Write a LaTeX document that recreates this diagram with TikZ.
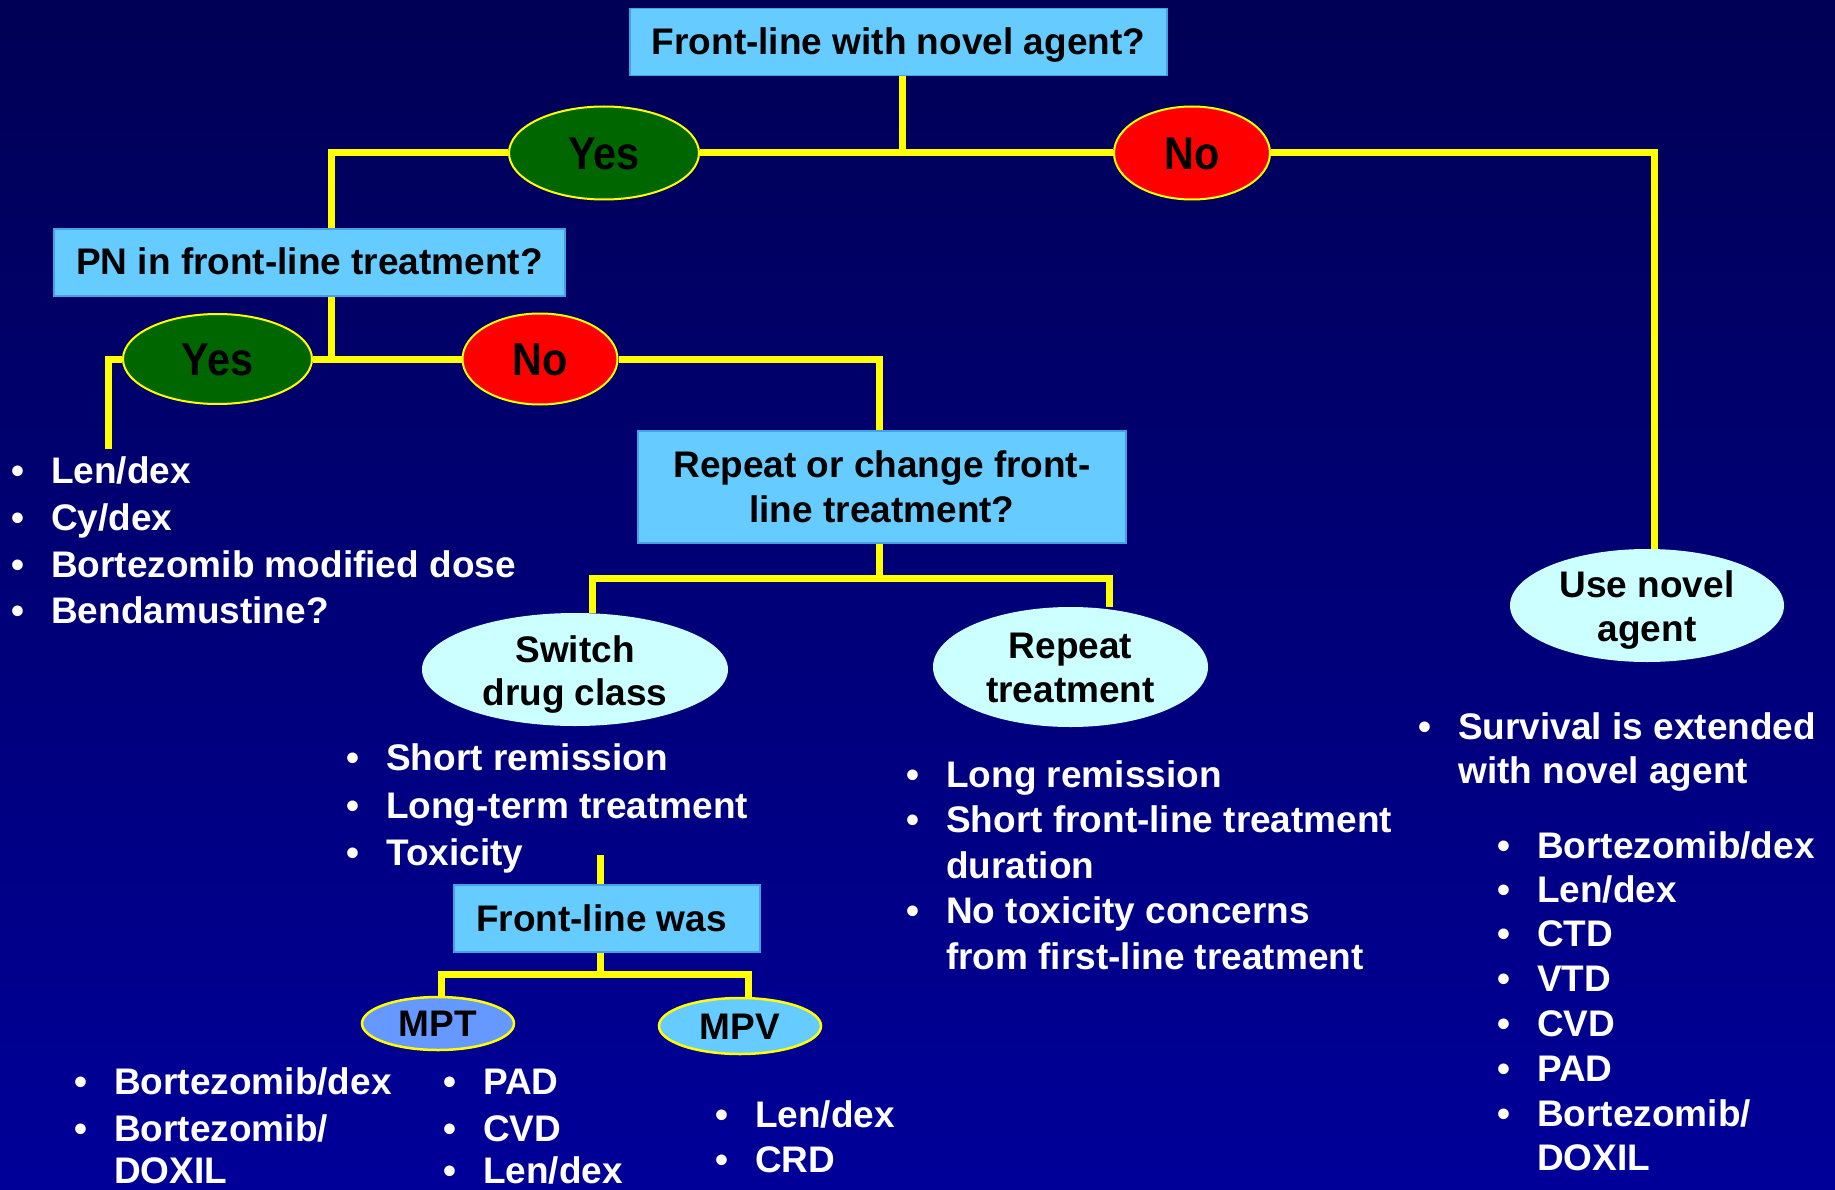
\documentclass[tikz,border=0pt]{standalone}
\usepackage{fontspec}
\setmainfont{Liberation Sans}
\usepackage{graphicx}
\usetikzlibrary{shapes.geometric}
\definecolor{bgtop}{RGB}{0,0,85}
\definecolor{bgbot}{RGB}{0,0,153}
\definecolor{boxfill}{RGB}{102,204,255}
\definecolor{boxedge}{RGB}{70,160,230}
\definecolor{yesfill}{RGB}{0,102,0}
\definecolor{nofill}{RGB}{255,0,0}
\definecolor{pale}{RGB}{204,255,255}
\definecolor{mptfill}{RGB}{102,153,255}
\definecolor{wire}{RGB}{255,255,0}
\pgfdeclarelayer{background}
\pgfsetlayers{background,main}
\newcommand{\bul}{\makebox[0pt][r]{\textbullet\hspace{27pt}}}
\newcommand{\yn}[1]{\scalebox{0.9}[1]{#1}}
\tikzset{
  txt/.style={font=\bfseries\fontsize{37}{44}\selectfont, inner sep=0pt},
  qbox/.style={txt, rectangle, fill=boxfill, draw=boxedge, line width=1.2pt, text=black},
  yesno/.style={ellipse, inner sep=0pt, draw=wire, line width=2pt, text=black,
    font=\bfseries\fontsize{46}{50}\selectfont, text height=33pt, text depth=0pt},
  paleell/.style={ellipse, inner sep=0pt, fill=pale},
  drugell/.style={txt, ellipse, draw=wire, line width=2.5pt, text=black, text height=26.5pt, text depth=0pt},
  dark/.style={txt, text=black, anchor=base},
  item/.style={txt, text=white, anchor=base west},
  wire line/.style={draw=wire, line width=7pt},
}
\begin{document}
\begin{tikzpicture}[x=1pt, y=-1pt]
\useasboundingbox (0,0) rectangle (1835,1190);

% question boxes
\node[qbox, minimum width=537pt, minimum height=67pt, text height=28pt, text depth=2pt] (t1) at (898.5,42) {Front-line with novel agent?};
\node[qbox, minimum width=511pt, minimum height=67pt, text height=25pt, text depth=2pt] (pn) at (309.5,262.5) {PN in front-line treatment?};
\node[qbox, minimum width=488pt, minimum height=112pt] (rep) at (882,487) {};
\node[dark] (rep1) at (882,477) {Repeat or change front-};
\node[dark] (rep2) at (882,522) {line treatment?};
\node[qbox, minimum width=306pt, minimum height=67pt] (flw) at (607,918.5) {};
\node[dark] (flwt) at (601.5,931) {Front-line was};

% yes / no
\node[yesno, fill=yesfill, minimum width=190pt, minimum height=93pt] (yes1) at (604,153) {\yn{Yes}};
\node[yesno, fill=nofill, minimum width=156pt, minimum height=93pt] (no1) at (1192,153) {\yn{No}};
\node[yesno, fill=yesfill, minimum width=189pt, minimum height=90pt] (yes2) at (217.5,359) {\yn{Yes}};
\node[yesno, fill=nofill, minimum width=155pt, minimum height=91pt] (no2) at (540,359) {\yn{No}};

% outcome ellipses
\node[paleell, minimum width=306pt, minimum height=113pt] (sw) at (575,669.5) {};
\node[dark] (sw1) at (575,662) {Switch};
\node[dark] (sw2) at (575,705) {drug class};
\node[paleell, minimum width=275pt, minimum height=120pt] (rt) at (1070.5,667) {};
\node[dark] (rt1) at (1070.5,658) {Repeat};
\node[dark] (rt2) at (1070.5,702) {treatment};
\node[paleell, minimum width=274pt, minimum height=113pt] (use) at (1647,605.5) {};
\node[dark] (use1) at (1647,597) {Use novel};
\node[dark] (use2) at (1647,641) {agent};

\node[drugell, fill=mptfill, minimum width=152pt, minimum height=53pt] (mpt) at (438,1023.5) {MPT};
\node[drugell, fill=boxfill, minimum width=162pt, minimum height=56pt] (mpv) at (740,1026) {MPV};

% bullet lists
\node[item] (a1) at (51,483) {\bul Len/dex};
\node[item] (a2) at (51,530) {\bul Cy/dex};
\node[item] (a3) at (51,577) {\bul Bortezomib modified dose};
\node[item] (a4) at (51,623) {\bul Bendamustine?};

\node[item] (b1) at (386,770) {\bul Short remission};
\node[item] (b2) at (386,818) {\bul Long-term treatment};
\node[item] (b3) at (386,865) {\bul Toxicity};

\node[item] (c1) at (946,787) {\bul Long remission};
\node[item] (c2) at (946,832) {\bul Short front-line treatment};
\node[item] (c3) at (946,878) {duration};
\node[item] (c4) at (946,923) {\bul No toxicity concerns};
\node[item] (c5) at (946,969) {from first-line treatment};

\node[item] (d1) at (1458,739) {\bul Survival is extended};
\node[item] (d2) at (1458,783) {with novel agent};
\node[item] (e1) at (1537,858) {\bul Bortezomib/dex};
\node[item] (e2) at (1537,902) {\bul Len/dex};
\node[item] (e3) at (1537,946.5) {\bul CTD};
\node[item] (e4) at (1537,991) {\bul VTD};
\node[item] (e5) at (1537,1036) {\bul CVD};
\node[item] (e6) at (1537,1081) {\bul PAD};
\node[item] (e7) at (1537,1126) {\bul Bortezomib/};
\node[item] (e8) at (1537,1170) {DOXIL};

\node[item] (f1) at (114,1094) {\bul Bortezomib/dex};
\node[item] (f2) at (114,1141) {\bul Bortezomib/};
\node[item] (f3) at (114,1183) {DOXIL};
\node[item] (g1) at (483,1094) {\bul PAD};
\node[item] (g2) at (483,1141) {\bul CVD};
\node[item] (g3) at (483,1183) {\bul Len/dex};
\node[item] (h1) at (755,1127) {\bul Len/dex};
\node[item] (h2) at (755,1172) {\bul CRD};

% helper coordinates
\coordinate (tx) at (902,0);
\coordinate (pnx) at (331,0);
\coordinate (usex) at (1654,0);
\coordinate (yesend) at (108,449);
\coordinate (sj) at (879,578);
\coordinate (swx) at (592,0);
\coordinate (rtx) at (1109,0);
\coordinate (toxend) at (600,855);
\coordinate (fj) at (600,974);
\coordinate (mptx) at (441,0);
\coordinate (mpvx) at (748,0);

\begin{pgfonlayer}{background}
\fill[top color=bgtop, bottom color=bgbot] (0,0) rectangle (1835,1190);
\begin{scope}[wire line]
\draw (t1.south -| tx) -- (tx |- yes1.east);
\draw (yes1.east) -- (no1.west);
\draw (yes1.west) -| (pn.north -| pnx);
\draw (no1.east) -| (use.north -| usex);
\draw (pn.south -| pnx) -- (pnx |- yes2.east);
\draw (yes2.east) -- (no2.west);
\draw (yes2.west) -| (yesend);
\draw (no2.east) -| (rep.north -| sj);
\draw (rep.south -| sj) -- (sj);
\draw (sw.north -| swx) |- (sj) -| (rt.north -| rtx);
\draw (toxend) -- (flw.north -| toxend);
\draw (flw.south -| toxend) -- (fj);
\draw (mpt.north -| mptx) |- (fj) -| (mpv.north -| mpvx);
\end{scope}
\end{pgfonlayer}
\end{tikzpicture}
\end{document}
